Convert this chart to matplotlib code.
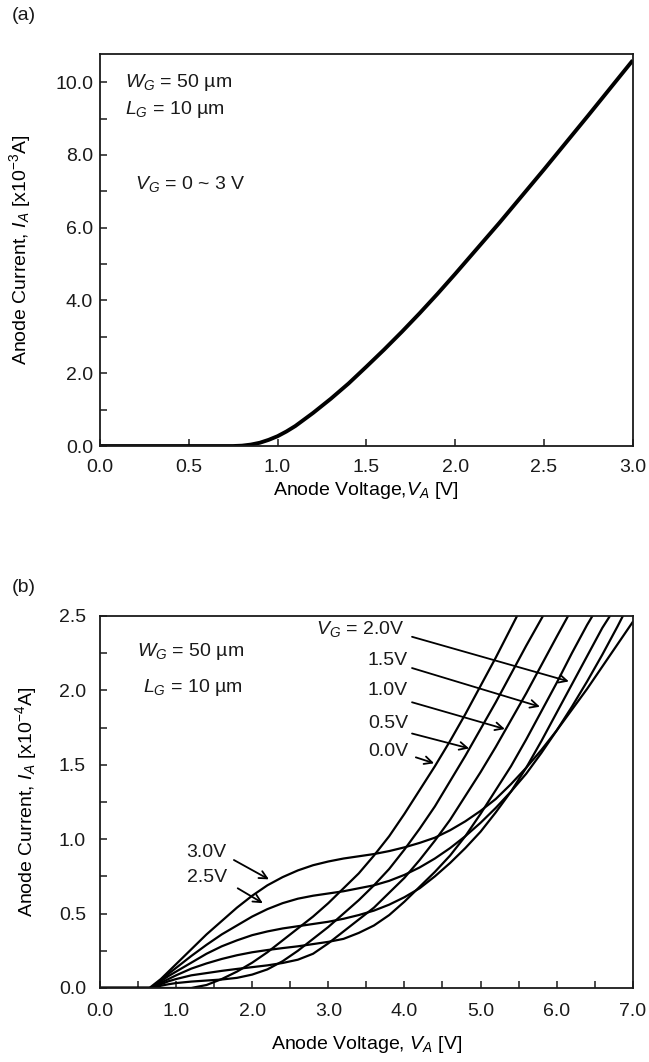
import numpy as np
import matplotlib
matplotlib.use('Agg')
import matplotlib.pyplot as plt
from matplotlib.ticker import MultipleLocator, FormatStrFormatter

plt.rcParams['font.family'] = ['Liberation Sans', 'DejaVu Sans']
plt.rcParams['mathtext.fontset'] = 'custom'
plt.rcParams['mathtext.rm'] = 'Liberation Sans'
plt.rcParams['mathtext.it'] = 'Liberation Sans:italic'
plt.rcParams['text.color'] = '#1a1a1a'

# panel (a): single I-V curve (all VG overlap)
va_a = [0.00, 0.50, 0.75, 0.80, 0.85, 0.90, 0.95, 1.00, 1.05, 1.10, 1.20, 1.30, 1.40, 1.50,
        1.60, 1.70, 1.80, 1.90, 2.00, 2.25, 2.50, 2.75, 3.00]
ia_a = [0.00, 0.00, 0.00, 0.01, 0.04, 0.09, 0.17, 0.27, 0.40, 0.55, 0.91, 1.30, 1.72, 2.18,
        2.65, 3.14, 3.65, 4.18, 4.73, 6.14, 7.60, 9.09, 10.60]

# panel (b): one curve per gate voltage
va_00 = [0.0, 1.20, 1.40, 1.60, 1.80, 2.00, 2.20, 2.40, 2.60, 2.80, 3.00, 3.20, 3.40, 3.60,
         3.80, 4.00, 4.20, 4.40, 4.60, 4.80, 5.00, 5.20, 5.40, 5.48]
ia_00 = [0.0, 0.00, 0.02, 0.06, 0.11, 0.17, 0.24, 0.32, 0.40, 0.48, 0.57, 0.67, 0.77, 0.89,
         1.02, 1.17, 1.33, 1.49, 1.66, 1.84, 2.03, 2.22, 2.42, 2.50]

va_05 = [0.0, 0.70, 0.80, 0.90, 1.00, 1.20, 1.40, 1.60, 1.80, 2.00, 2.20, 2.40, 2.60, 2.80,
         3.00, 3.20, 3.40, 3.60, 3.80, 4.00, 4.20, 4.40, 4.60, 4.80, 5.00, 5.20, 5.40, 5.60, 5.82]
ia_05 = [0.0, 0.00, 0.015, 0.025, 0.033, 0.043, 0.05, 0.057, 0.068, 0.09, 0.125, 0.18, 0.25, 0.33,
         0.41, 0.50, 0.59, 0.69, 0.80, 0.93, 1.07, 1.22, 1.39, 1.56, 1.74, 1.92, 2.11, 2.30, 2.50]

va_10 = [0.0, 0.68, 0.80, 0.90, 1.00, 1.20, 1.40, 1.60, 1.80, 2.00, 2.20, 2.40, 2.60, 2.80,
         3.00, 3.20, 3.40, 3.60, 3.80, 4.00, 4.20, 4.40, 4.60, 4.80, 5.00, 5.20, 5.40, 5.60,
         5.80, 6.00, 6.15]
ia_10 = [0.0, 0.00, 0.025, 0.045, 0.06, 0.085, 0.10, 0.115, 0.128, 0.14, 0.152, 0.168, 0.19, 0.23,
         0.30, 0.38, 0.46, 0.54, 0.64, 0.74, 0.86, 0.99, 1.13, 1.29, 1.45, 1.62, 1.80, 1.98,
         2.17, 2.36, 2.50]

va_15 = [0.0, 0.68, 0.80, 0.90, 1.00, 1.20, 1.40, 1.60, 1.80, 2.00, 2.20, 2.40, 2.60, 2.80,
         3.00, 3.20, 3.40, 3.60, 3.80, 4.00, 4.20, 4.40, 4.60, 4.80, 5.00, 5.20, 5.40, 5.60,
         5.80, 6.00, 6.20, 6.40, 6.47]
ia_15 = [0.0, 0.00, 0.035, 0.06, 0.085, 0.13, 0.165, 0.195, 0.22, 0.24, 0.255, 0.268, 0.28, 0.295,
         0.31, 0.33, 0.37, 0.42, 0.49, 0.58, 0.68, 0.78, 0.89, 1.02, 1.17, 1.33, 1.49, 1.67,
         1.86, 2.05, 2.25, 2.44, 2.50]

va_20 = [0.0, 0.68, 0.80, 0.90, 1.00, 1.20, 1.40, 1.60, 1.80, 2.00, 2.20, 2.40, 2.60, 2.80,
         3.00, 3.20, 3.40, 3.60, 3.80, 4.00, 4.20, 4.40, 4.60, 4.80, 5.00, 5.20, 5.40, 5.60,
         5.80, 6.00, 6.20, 6.40, 6.60, 6.70]
ia_20 = [0.0, 0.00, 0.045, 0.08, 0.11, 0.17, 0.23, 0.28, 0.32, 0.355, 0.38, 0.40, 0.415, 0.43,
         0.445, 0.465, 0.49, 0.52, 0.56, 0.61, 0.67, 0.75, 0.84, 0.94, 1.05, 1.18, 1.32, 1.48,
         1.66, 1.85, 2.04, 2.23, 2.42, 2.50]

va_25 = [0.0, 0.68, 0.80, 0.90, 1.00, 1.20, 1.40, 1.60, 1.80, 2.00, 2.20, 2.40, 2.60, 2.80,
         3.00, 3.20, 3.40, 3.60, 3.80, 4.00, 4.20, 4.40, 4.60, 4.80, 5.00, 5.20, 5.40, 5.60,
         5.80, 6.00, 6.20, 6.40, 6.60, 6.80, 6.87]
ia_25 = [0.0, 0.00, 0.05, 0.095, 0.135, 0.215, 0.29, 0.36, 0.42, 0.48, 0.53, 0.57, 0.60, 0.62,
         0.635, 0.65, 0.67, 0.69, 0.72, 0.76, 0.81, 0.87, 0.94, 1.02, 1.11, 1.21, 1.32, 1.44,
         1.58, 1.73, 1.89, 2.06, 2.24, 2.43, 2.50]

va_30 = [0.0, 0.65, 0.80, 0.90, 1.00, 1.20, 1.40, 1.60, 1.80, 2.00, 2.20, 2.40, 2.60, 2.80,
         3.00, 3.20, 3.40, 3.60, 3.80, 4.00, 4.20, 4.40, 4.60, 4.80, 5.00, 5.20, 5.40, 5.60,
         5.80, 6.00, 6.20, 6.40, 6.60, 6.80, 7.00]
ia_30 = [0.0, 0.00, 0.06, 0.11, 0.16, 0.26, 0.36, 0.45, 0.54, 0.62, 0.69, 0.745, 0.79, 0.825,
         0.85, 0.87, 0.885, 0.90, 0.92, 0.945, 0.975, 1.01, 1.06, 1.12, 1.19, 1.27, 1.37, 1.48,
         1.60, 1.73, 1.87, 2.01, 2.16, 2.31, 2.46]

curves_b = [(va_00, ia_00), (va_05, ia_05), (va_10, ia_10), (va_15, ia_15),
            (va_20, ia_20), (va_25, ia_25), (va_30, ia_30)]

# arrow labels: text, text position, arrow start, arrow tip
labels_b = [
    (r'$V_G$ = 2.0V', (2.84, 2.41), (4.10, 2.36), (6.16, 2.06)),
    ('1.5V', (3.52, 2.20), (4.10, 2.15), (5.78, 1.89)),
    ('1.0V', (3.52, 2.00), (4.10, 1.92), (5.32, 1.74)),
    ('0.5V', (3.52, 1.78), (4.10, 1.71), (4.85, 1.61)),
    ('0.0V', (3.52, 1.59), (4.15, 1.55), (4.39, 1.51)),
    ('3.0V', (1.13, 0.91), (1.76, 0.86), (2.22, 0.73)),
    ('2.5V', (1.15, 0.74), (1.81, 0.67), (2.14, 0.57)),
]

fig = plt.figure(figsize=(6.49, 10.62), dpi=100)
ax1 = fig.add_axes([0.154, 0.580, 0.821, 0.369])
ax2 = fig.add_axes([0.154, 0.0697, 0.821, 0.3503])

fs = 14
for ax in (ax1, ax2):
    ax.tick_params(which='both', direction='in', length=5, width=1.1, labelsize=fs,
                   top=False, right=False, colors='#1a1a1a')
    for s in ax.spines.values():
        s.set_linewidth(1.3)
        s.set_color('#1a1a1a')

# (a)
ax1.plot(va_a, ia_a, color='black', lw=2.8, solid_capstyle='butt')
ax1.set_xlim(0, 3.0)
ax1.set_ylim(0, 10.77)
ax1.xaxis.set_major_locator(MultipleLocator(0.5))
ax1.yaxis.set_major_locator(MultipleLocator(2.0))
ax1.yaxis.set_minor_locator(MultipleLocator(1.0))
ax1.xaxis.set_major_formatter(FormatStrFormatter('%.1f'))
ax1.yaxis.set_major_formatter(FormatStrFormatter('%.1f'))
ax1.tick_params(axis='x', pad=9)
ax1.tick_params(axis='y', pad=5)
ax1.set_xlabel(r'Anode Voltage,$V_A$ [V]', fontsize=fs, labelpad=3)
ax1.set_ylabel(r'Anode Current, $I_A$ [x10$^{-3}$A]', fontsize=fs, labelpad=16)
ax1.text(0.14, 10.0, r'$W_G$ = 50 µm', fontsize=fs, va='center')
ax1.text(0.14, 9.25, r'$L_G$ = 10 µm', fontsize=fs, va='center')
ax1.text(0.20, 7.2, r'$V_G$ = 0 ~ 3 V', fontsize=fs, va='center')
fig.text(0.018, 0.985, '(a)', fontsize=fs, va='center')

# (b)
for va, ia in curves_b:
    ax2.plot(va, ia, color='black', lw=1.6)
ax2.set_xlim(0, 7.0)
ax2.set_ylim(0, 2.5)
ax2.xaxis.set_major_locator(MultipleLocator(1.0))
ax2.xaxis.set_minor_locator(MultipleLocator(0.5))
ax2.yaxis.set_major_locator(MultipleLocator(0.5))
ax2.yaxis.set_minor_locator(MultipleLocator(0.25))
ax2.xaxis.set_major_formatter(FormatStrFormatter('%.1f'))
ax2.yaxis.set_major_formatter(FormatStrFormatter('%.1f'))
ax2.tick_params(axis='x', pad=11)
ax2.tick_params(axis='y', pad=10)
ax2.set_xlabel(r'Anode Voltage, $V_A$ [V]', fontsize=fs, labelpad=10)
ax2.set_ylabel(r'Anode Current, $I_A$ [x10$^{-4}$A]', fontsize=fs, labelpad=14)
ax2.text(0.49, 2.26, r'$W_G$ = 50 µm', fontsize=fs, va='center')
ax2.text(0.56, 2.02, r'$L_G$ = 10 µm', fontsize=fs, va='center')
for txt, tpos, start, tip in labels_b:
    ax2.text(tpos[0], tpos[1], txt, fontsize=fs, va='center')
    ax2.annotate('', xy=tip, xytext=start,
                 arrowprops=dict(arrowstyle='->', color='black', lw=1.3,
                                 mutation_scale=14, shrinkA=0, shrinkB=0))
fig.text(0.018, 0.447, '(b)', fontsize=fs, va='center')

fig.savefig('out.png', dpi=100, facecolor='white')
